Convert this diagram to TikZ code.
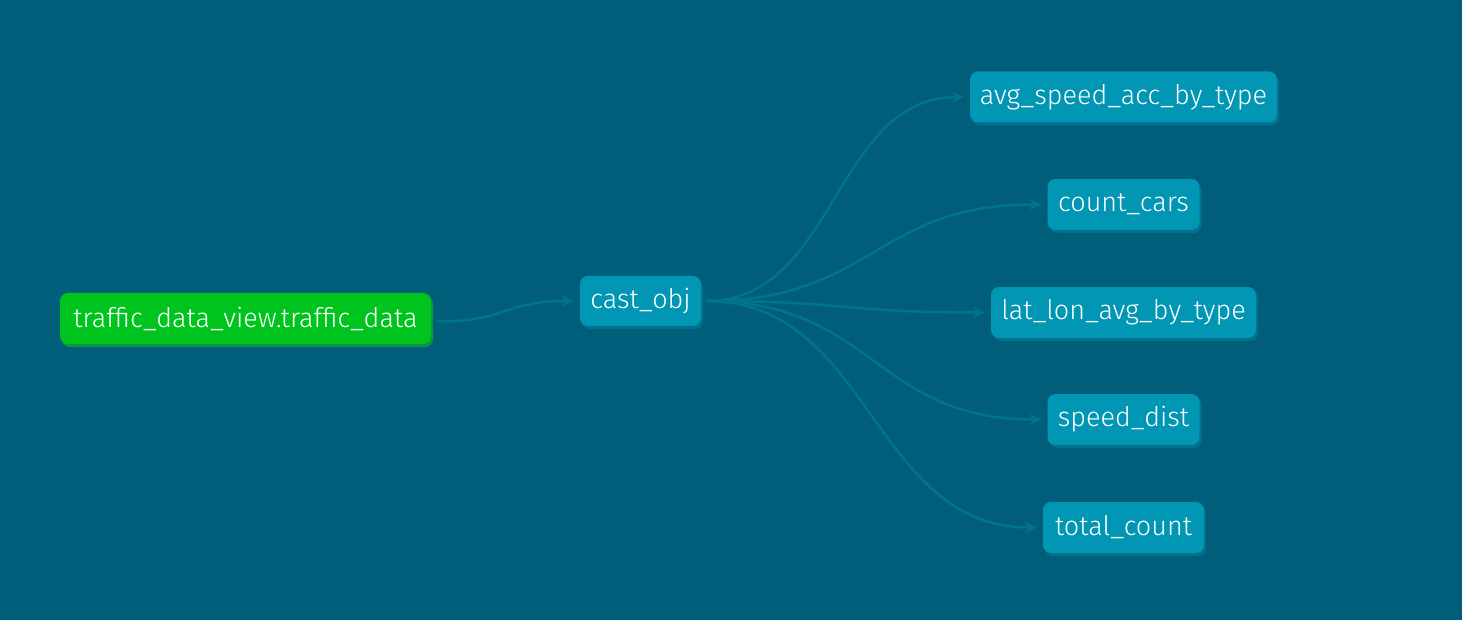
\documentclass[tikz,border=0pt]{standalone}
\usepackage{fontspec}
\setmainfont{Fira Sans Light}
\usepackage{xcolor}
\definecolor{cBack}{HTML}{005E7A}
\definecolor{cModel}{HTML}{0096B4}
\definecolor{cModelDark}{HTML}{00728E}
\definecolor{cSource}{HTML}{00C41E}
\definecolor{cSourceDark}{HTML}{0A9640}
\definecolor{cEdge}{HTML}{00738F}
\usepackage{tikz}
\usetikzlibrary{positioning,arrows.meta,shadows}
\tikzset{
  x=1pt,y=-1pt,
  node-model/.style={fill=cModel,rounded corners=8pt,text=white,
    minimum height=51pt,inner xsep=0pt,font=\fontsize{27}{30}\selectfont,
    drop shadow={shadow xshift=2pt,shadow yshift=-3pt,opacity=1,fill=cModelDark}},
  node-source/.style={node-model,fill=cSource,
    drop shadow={shadow xshift=2pt,shadow yshift=-3pt,opacity=1,fill=cSourceDark}},
  arrow/.style={-{Stealth[length=12pt,width=11pt,inset=4pt]},line width=2.5pt,draw=cEdge},
}
\begin{document}
\begin{tikzpicture}
  \fill[cBack] (0,0) rectangle (1462,620);
  \useasboundingbox (0,0) rectangle (1462,620);
  \node[node-source,minimum width=371pt] (src) at (245.5,318.5) {traffic\_data\_view.traffic\_data};
  \node[node-model,minimum width=121pt,minimum height=50pt] (cast) at (640.5,301) {cast\_obj};
  \foreach \name/\txt/\y/\w/\c in {avg/avg\_speed\_acc\_by\_type/97/307/130,
      cars/count\_cars/204.5/152/167, latlon/lat\_lon\_avg\_by\_type/312.5/265/139,
      dist/speed\_dist/419.5/152/167, total/total\_count/527.5/161/165} {
    \node[node-model,minimum width=\w pt] (\name) at (1123.5,\y) {\txt};
    \draw[arrow] ([xshift=5pt]cast.east) .. controls +(\c,0) and +(-\c,0) .. ([xshift=-6pt]\name.west);
  }
  \draw[arrow] ([xshift=6pt,yshift=-3pt]src.east) .. controls +(70,0) and +(-70,0) .. ([xshift=-6pt]cast.west);
\end{tikzpicture}
\end{document}
